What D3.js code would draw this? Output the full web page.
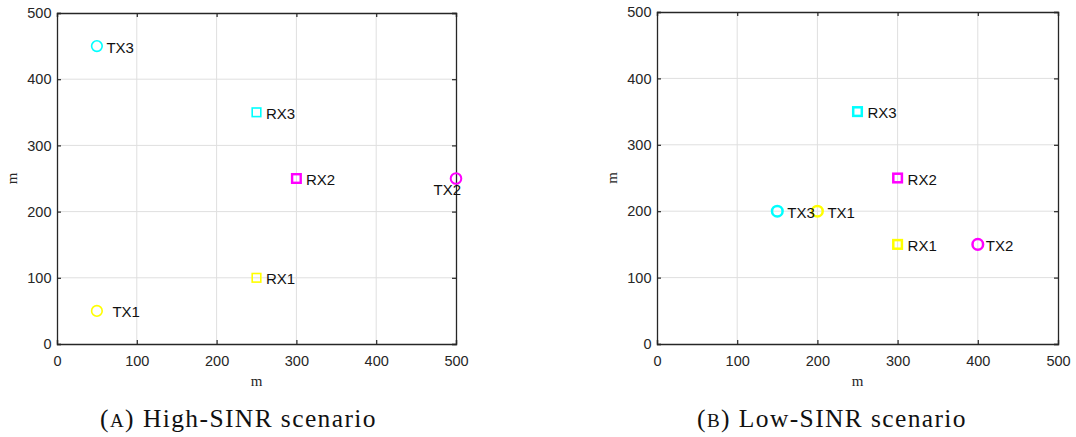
<!DOCTYPE html>
<html><head><meta charset="utf-8">
<script src="https://cdn.jsdelivr.net/npm/d3@7"></script>
<style>body{margin:0;background:#fff}svg{display:block}</style>
</head><body>
<svg id="c" width="1076" height="437"></svg>
<script>
// ---- data ----
const tickValues = [0, 100, 200, 300, 400, 500];
const highNames = ["TX1", "TX2", "TX3", "RX1", "RX2", "RX3"];
const highX = [50, 500, 50, 250, 300, 250];
const highY = [50, 250, 450, 100, 250, 350];
const lowNames = ["TX1", "TX2", "TX3", "RX1", "RX2", "RX3"];
const lowX = [200, 400, 150, 300, 300, 250];
const lowY = [200, 150, 200, 150, 250, 350];
const captions = ["High-SINR scenario", "Low-SINR scenario"];
const captionTags = ["(A)", "(B)"];

// ---- styles ----
const colorOf = {"1": "#ffff00", "2": "#ff00ff", "3": "#00ffff"};
const svg = d3.select("#c");

function panel(cfg) {
  const x = d3.scaleLinear().domain([0, 500]).range([cfg.x0, cfg.x1]);
  const y = d3.scaleLinear().domain([0, 500]).range([cfg.y0, cfg.y1]);
  const g = svg.append("g");
  // grid
  g.selectAll(".gx").data(tickValues.slice(1, -1)).join("line")
    .attr("x1", d => x(d)).attr("x2", d => x(d)).attr("y1", cfg.y0).attr("y2", cfg.y1)
    .attr("stroke", "#dfdfdf").attr("stroke-width", 1);
  g.selectAll(".gy").data(tickValues.slice(1, -1)).join("line")
    .attr("y1", d => y(d)).attr("y2", d => y(d)).attr("x1", cfg.x0).attr("x2", cfg.x1)
    .attr("stroke", "#dfdfdf").attr("stroke-width", 1);
  // axes via d3
  const ax = d3.axisBottom(x).tickValues(tickValues).tickSize(-4).tickPadding(12);
  const ay = d3.axisLeft(y).tickValues(tickValues).tickSize(-4).tickPadding(5.5);
  const axT = d3.axisTop(x).tickValues(tickValues).tickSize(-4).tickFormat("");
  const ayR = d3.axisRight(y).tickValues(tickValues).tickSize(-4).tickFormat("");
  const style = sel => {
    sel.selectAll("path").attr("stroke", "#262626").attr("stroke-width", 1.3);
    sel.selectAll("line").attr("stroke", "#262626").attr("stroke-width", 1.2);
    sel.selectAll("text").attr("fill", "#262626").style("font-family", "'Liberation Sans', Arial, sans-serif").style("font-size", "14.5px");
  };
  g.append("g").attr("transform", `translate(0,${cfg.y0})`).call(ax).call(style);
  g.append("g").attr("transform", `translate(${cfg.x0},0)`).call(ay).call(style);
  g.append("g").attr("transform", `translate(0,${cfg.y1})`).call(axT).call(style);
  g.append("g").attr("transform", `translate(${cfg.x1},0)`).call(ayR).call(style);
  // axis labels
  g.append("text").attr("x", (cfg.x0 + cfg.x1) / 2).attr("y", cfg.y0 + 42)
    .attr("text-anchor", "middle").attr("fill", "#262626")
    .style("font-family", "'Liberation Serif', serif").style("font-size", "15px").text("m");
  g.append("text").attr("transform", `translate(${cfg.x0 - 40},${(cfg.y0 + cfg.y1) / 2}) rotate(-90)`)
    .attr("text-anchor", "middle").attr("fill", "#262626")
    .style("font-family", "'Liberation Serif', serif").style("font-size", "15px").text("m");
  // points
  const pts = cfg.names.map((n, i) => ({name: n, x: cfg.xs[i], y: cfg.ys[i]}));
  pts.forEach(p => {
    const c = colorOf[p.name.slice(-1)];
    const sw = cfg.sw(p);
    if (p.name.startsWith("TX")) {
      g.append("circle").attr("cx", x(p.x)).attr("cy", y(p.y)).attr("r", 5.3)
        .attr("fill", "none").attr("stroke", c).attr("stroke-width", sw);
    } else {
      const s = 8.6;
      g.append("rect").attr("x", x(p.x) - s / 2).attr("y", y(p.y) - s / 2).attr("width", s).attr("height", s)
        .attr("fill", "none").attr("stroke", c).attr("stroke-width", sw);
    }
  });
  pts.forEach(p => {
    const off = cfg.lab(p);
    g.append("text").attr("x", x(p.x) + off.dx).attr("y", y(p.y) + off.dy)
      .attr("text-anchor", off.anchor || "start").attr("dominant-baseline", "central")
      .attr("fill", "#111")
      .style("font-family", "'Liberation Sans', Arial, sans-serif").style("font-size", "15px").text(p.name);
  });
  // caption
  const gap = 8;
  const cap = svg.append("text").attr("x", cfg.capL).attr("y", 427)
    .attr("text-anchor", "start").attr("fill", "#111")
    .style("font-family", "'Liberation Serif', serif").style("font-size", "25.5px");
  cap.append("tspan").text("(");
  cap.append("tspan").style("font-size", "19px").text(cfg.tag.slice(1, 2));
  cap.append("tspan").text(")");
  cap.append("tspan").attr("dx", gap).text(cfg.caption);
  // stretch spacing to the reference width
  const w = cap.node().getComputedTextLength() + gap;
  const n = cap.text().length;
  cap.style("letter-spacing", Math.max(0, (cfg.capW - w) / n) + "px");
}

panel({x0: 57, x1: 456, y0: 344, y1: 13, names: highNames, xs: highX, ys: highY,
  tag: captionTags[0], caption: captions[0], capL: 100, capW: 277,
  sw: p => p.name === "RX2" ? 2.4 : (p.name === "TX2" ? 2 : 1.6),
  lab: p => p.name === "TX1" ? {dx: 15.5, dy: 1} : p.name === "TX2" ? {dx: 5, dy: 11, anchor: "end"} : {dx: 9.5, dy: 1}});
panel({x0: 657, x1: 1058, y0: 344, y1: 12, names: lowNames, xs: lowX, ys: lowY,
  tag: captionTags[1], caption: captions[1], capL: 697, capW: 270,
  sw: p => 2.5,
  lab: p => p.name === "TX2" ? {dx: 8, dy: 1} : {dx: 10, dy: 1}});
</script>
</body></html>
